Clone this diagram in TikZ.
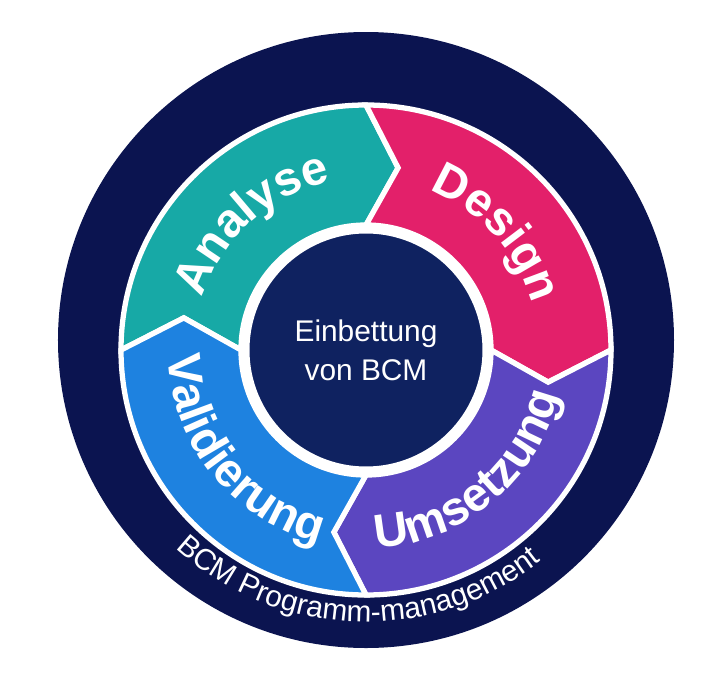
\documentclass[tikz,border=0pt]{standalone}
\usepackage{fontspec}
\setmainfont{Liberation Sans}
\usetikzlibrary{decorations.text}

\definecolor{navy}{HTML}{0B1450}
\definecolor{corenavy}{HTML}{0F2260}
\definecolor{analysecol}{HTML}{17A9A6}
\definecolor{designcol}{HTML}{E3206A}
\definecolor{umsetzcol}{HTML}{5B46C0}
\definecolor{validcol}{HTML}{1E82E0}

% one chevron segment of the ring: start angle, colour
\newcommand{\ringseg}[2]{
  \fill[#2, draw=white, line width=3pt, line join=miter]
    (#1:245) arc[start angle=#1, end angle={#1-90}, radius=245]
    -- ({#1-100}:185) -- ({#1-90}:125)
    arc[start angle={#1-90}, end angle=#1, radius=125]
    -- ({#1-10}:185) -- cycle;
}

\begin{document}
\begin{tikzpicture}[
  x=0.02cm,
  y=0.02cm,
  seglabel/.style={
    decorate,
    decoration={
      text along path,
      text align=center,
      text={|\fontsize{27}{30}\selectfont\bfseries\color{white}|#1},
    },
  },
  ringlabel/.style={
    decorate,
    decoration={
      text along path,
      text align=center,
      text={|\fontsize{17}{20}\selectfont\color{white}|#1},
    },
  },
  core/.style={
    circle,
    fill=corenavy,
    draw=white,
    line width=4pt,
    minimum size=240*0.02cm,
    text=white,
    align=center,
    font={\fontsize{17}{22}\selectfont},
  },
]
  \useasboundingbox[fill=white] (-366,-327) rectangle (354,350);

  %%%%%%%%%%%%%%%%%%%% Outer ring %%%%%%%%%%%%%%%%%%%%

  \fill[navy] (0,10) circle[radius=308];

  \path[ringlabel={BCM Programm-management}]
    (0,10) ++(210:282) arc[start angle=210, end angle=326, radius=282];

  %%%%%%%%%%%%%%%%%%%% Cycle %%%%%%%%%%%%%%%%%%%%

  \ringseg{180}{analysecol}
  \ringseg{90}{designcol}
  \ringseg{0}{umsetzcol}
  \ringseg{-90}{validcol}

  \path[seglabel={Analyse}]
    (168:172) arc[start angle=168, end angle=96, radius=172];
  \path[seglabel={Design}]
    (80:172) arc[start angle=80, end angle=4, radius=172];
  \path[seglabel={Umsetzung}]
    (-96:198) arc[start angle=-96, end angle=-4, radius=198];
  \path[seglabel={Validierung}]
    (172:198) arc[start angle=172, end angle=266, radius=198];

  %%%%%%%%%%%%%%%%%%%% Core %%%%%%%%%%%%%%%%%%%%

  \node[core] (core) at (0,0) {Einbettung\\von BCM};
\end{tikzpicture}
\end{document}
